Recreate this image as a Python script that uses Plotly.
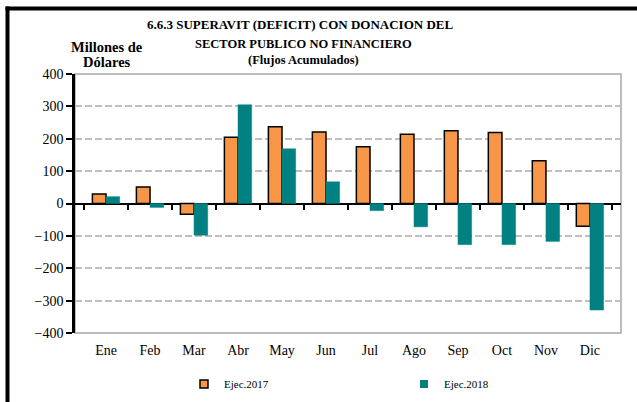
import plotly.graph_objects as go

# Monthly accumulated surplus (deficit) with grants, millions of dollars
months = ["Ene", "Feb", "Mar", "Abr", "May", "Jun", "Jul", "Ago", "Sep", "Oct", "Nov", "Dic"]
ejec_2017 = [29, 51, -33, 205, 237, 221, 175, 214, 225, 219, 132, -70]
ejec_2018 = [21, -12, -98, 305, 169, 67, -22, -72, -127, -127, -117, -329]
y_ticks = [-400, -300, -200, -100, 0, 100, 200, 300, 400]

serif = "Liberation Serif, Times New Roman, serif"
orange, teal = "#F79646", "#008080"

fig = go.Figure()
fig.add_trace(go.Bar(
    x=months, y=ejec_2017, name="Ejec.2017", showlegend=False,
    marker=dict(color=orange, line=dict(color="black", width=1.5)),
))
fig.add_trace(go.Bar(
    x=months, y=ejec_2018, name="Ejec.2018", showlegend=False,
    marker=dict(color=teal, line=dict(color=teal, width=0.5)),
))
# small square keys for the two series
fig.add_trace(go.Scatter(
    x=[None], y=[None], mode="markers", name="Ejec.2017", legend="legend",
    marker=dict(symbol="square", size=8, color=orange, line=dict(color="black", width=1.5)),
))
fig.add_trace(go.Scatter(
    x=[None], y=[None], mode="markers", name="Ejec.2018", legend="legend2",
    marker=dict(symbol="square", size=8, color=teal, line=dict(width=0)),
))
# helper trace that carries the category ticks along the zero line
fig.add_trace(go.Scatter(
    x=months, y=[0] * len(months), xaxis="x2", mode="markers",
    marker=dict(opacity=0), showlegend=False, hoverinfo="skip",
))

L, R, T, B = 75, 16, 74, 69
W, H = 637, 402
pw, ph = W - L - R, H - T - B


def px(xp):
    return (xp - L) / pw


def py(yp):
    return (H - B - yp) / ph


legend_style = dict(
    orientation="h", yanchor="middle", xanchor="left", itemwidth=30,
    font=dict(size=11, family=serif), bgcolor="rgba(0,0,0,0)",
)


def label(text, x, y, size):
    return dict(text=text, xref="paper", yref="paper", x=px(x), y=py(y),
                xanchor="center", yanchor="middle", showarrow=False,
                font=dict(size=size, family=serif, color="black"))


fig.update_layout(
    width=W, height=H,
    margin=dict(l=L, r=R, t=T, b=B, autoexpand=False),
    paper_bgcolor="white", plot_bgcolor="white",
    barmode="group", bargap=0.38, bargroupgap=0,
    font=dict(family=serif, color="black", size=13),
    showlegend=True,
    legend=dict(legend_style, x=px(184), y=py(384)),
    legend2=dict(legend_style, x=px(404), y=py(384)),
    xaxis=dict(
        type="category", categoryorder="array", categoryarray=months,
        showline=False, ticks="", showgrid=False, zeroline=False,
        tickfont=dict(size=14, family=serif), ticklabelstandoff=7,
    ),
    xaxis2=dict(
        type="category", categoryorder="array", categoryarray=months,
        overlaying="x", matches="x", anchor="free", position=0.5,
        showticklabels=False, showline=False, showgrid=False,
        ticks="outside", tickson="boundaries", ticklen=5, tickwidth=2,
        tickcolor="black",
    ),
    yaxis=dict(
        range=[-400, 400], tickvals=y_ticks,
        showline=True, linecolor="black", linewidth=2.5,
        ticks="outside", ticklen=6, tickwidth=1.5, tickcolor="black",
        showgrid=True, gridcolor="#BFBFBF", gridwidth=1.5, griddash="7px,3px",
        zeroline=True, zerolinecolor="black", zerolinewidth=2,
        tickfont=dict(size=14, family=serif),
    ),
    shapes=[
        # plot area border
        dict(type="rect", xref="paper", yref="paper", x0=0, x1=1, y0=0, y1=1,
             line=dict(color="#A6A6A6", width=1.5), layer="below"),
        # outer frame (left and top)
        dict(type="line", xref="paper", yref="paper", x0=px(7.5), x1=px(7.5),
             y0=py(6.5), y1=py(405), line=dict(color="black", width=4)),
        dict(type="line", xref="paper", yref="paper", x0=px(5.5), x1=px(640),
             y0=py(8.5), y1=py(8.5), line=dict(color="black", width=4)),
    ],
    annotations=[
        label("<b>6.6.3 SUPERAVIT (DEFICIT) CON DONACION DEL</b>", 300, 25, 13),
        label("<b>SECTOR PUBLICO NO FINANCIERO</b>", 303, 44, 12.5),
        label("<b>(Flujos Acumulados)</b>", 303, 60, 12.5),
        label("<b>Millones de</b>", 107, 47, 14.5),
        label("<b>Dólares</b>", 107, 62, 14.5),
    ],
)

fig.write_html("out.html")
